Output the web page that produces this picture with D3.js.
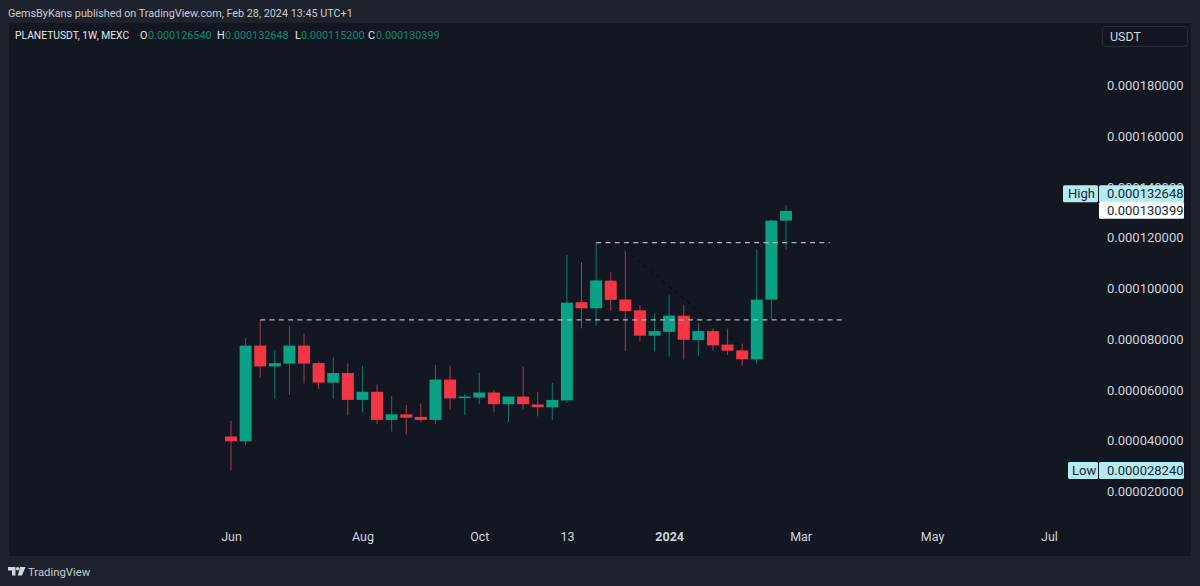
<!DOCTYPE html>
<html>
<head>
<meta charset="utf-8">
<script src="https://cdn.jsdelivr.net/npm/d3@7/dist/d3.min.js"></script>
<style>
  html, body { margin: 0; padding: 0; background: #1e222d; }
  svg { display: block; }
  text { font-family: Roboto, "Noto Sans", sans-serif; }
  .domain, .tick line { display: none; }
</style>
</head>
<body>
<svg id="chart" width="1200" height="586"></svg>
<script>
// prices are in millionths of a USDT
var opens  = [41.5,39.6,77.3,69.1,70.2,77.3,70.4,62.7,66.5,55.9,59.1,48.0,50.2,49.2,48.0,63.9,56.6,56.8,58.8,54.2,57.2,54.1,53.0,55.7,94.4,92.0,102.9,95.5,91.2,81.2,82.7,89.1,79.5,83.0,77.7,75.4,71.9,95.4,126.54];
var highs  = [47.7,80.3,87.4,75.6,85.0,82.1,71.0,72.7,70.3,69.3,62.0,57.4,53.9,54.5,69.7,69.5,58.1,66.6,59.8,57.2,69.0,58.9,62.6,113.1,110.2,117.9,106.2,115.2,93.3,90.0,97.1,93.2,86.2,84.1,84.0,78.1,115.2,126.9,132.648];
var lows   = [28.24,37.9,64.7,56.4,57.8,62.4,60.1,56.4,49.9,51.0,46.3,43.4,42.3,47.2,46.4,52.1,50.0,54.2,51.0,47.1,52.1,49.4,48.1,54.7,84.1,85.2,91.1,75.2,79.1,75.0,73.0,71.8,73.3,75.3,73.6,69.4,70.0,87.7,115.2];
var closes = [39.6,77.3,69.1,70.4,77.3,70.2,62.7,66.5,55.9,59.1,48.0,50.2,48.9,48.0,63.9,56.5,57.2,58.8,54.2,57.2,54.2,53.0,55.9,94.2,92.0,103.0,95.3,90.9,81.2,83.0,89.1,79.6,83.0,77.4,75.3,71.9,95.4,126.54,130.399];

var priceTicks = [20,40,60,80,100,120,140,160,180];
var timeTickIdx = [0,9,17,23,30,39,48,56];
var timeTickLabels = ['Jun','Aug','Oct','13','2024','Mar','May','Jul'];

var svg = d3.select('#chart');
var x = d3.scaleLinear().domain([0,38]).range([231,786]);
var y = d3.scaleLinear().domain([180,20]).range([85,491]);
var fmt = function(v){ return (v*1e-6).toFixed(9); };

var UP = '#0aa184', DOWN = '#f23645', UPWICK = '#0b7d6b', DOWNWICK = '#a93d4c';

// panel
svg.append('rect').attr('width',1200).attr('height',586).attr('fill','#1e222d');
svg.append('rect').attr('x',9).attr('y',23).attr('width',1182).attr('height',533).attr('fill','#131722');

// header
svg.append('text').attr('x',8).attr('y',17).attr('fill','#c8cad0').attr('font-size',10.8)
  .text('GemsByKans published on TradingView.com, Feb 28, 2024 13:45 UTC+1');

var legend = svg.append('text').attr('x',15).attr('y',39).attr('font-size',10.8).attr('fill','#e6e7ea');
legend.append('tspan').attr('font-size',10.3).text('PLANETUSDT, 1W, MEXC');
var ohlc = [['O',opens[38],140,148],['H',highs[38],217,225],['L',lows[38],295,301],['C',closes[38],368,376]];
ohlc.forEach(function(d){
  legend.append('tspan').attr('x',d[2]).text(d[0]);
  legend.append('tspan').attr('x',d[3]).attr('fill','#0d8a73').text(fmt(d[1]));
});

// price axis
var yAxis = d3.axisRight(y).tickValues(priceTicks).tickFormat(fmt).tickSize(0).tickPadding(0);
var gy = svg.append('g').attr('transform','translate(1107,0)').call(yAxis);
gy.selectAll('text').attr('font-size',13).attr('fill','#d1d4dc').attr('dy','0.35em');

// time axis
var xAxis = d3.axisBottom(x).tickValues(timeTickIdx)
  .tickFormat(function(d,i){ return timeTickLabels[i]; }).tickSize(0).tickPadding(0);
var gx = svg.append('g').attr('transform','translate(0,537)').call(xAxis);
gx.selectAll('text').attr('font-size',12.5).attr('fill','#d1d4dc').attr('dy','0.35em')
  .attr('font-weight',function(d,i){ return timeTickLabels[i]==='2024' ? 700 : 400; });

// candles
var idx = d3.range(opens.length);
svg.append('g').selectAll('line').data(idx).enter().append('line')
  .attr('x1',function(i){ return x(i); }).attr('x2',function(i){ return x(i); })
  .attr('y1',function(i){ return y(highs[i]); }).attr('y2',function(i){ return y(lows[i]); })
  .attr('stroke',function(i){ return closes[i]>=opens[i] ? UPWICK : DOWNWICK; })
  .attr('stroke-width',1);
svg.append('g').selectAll('rect').data(idx).enter().append('rect')
  .attr('x',function(i){ return x(i)-6; }).attr('width',12)
  .attr('y',function(i){ return y(Math.max(opens[i],closes[i])); })
  .attr('height',function(i){ return Math.abs(y(opens[i])-y(closes[i])); })
  .attr('fill',function(i){ return closes[i]>=opens[i] ? UP : DOWN; });

// drawn levels
var levels = [[2,41.9,87.4],[25,41,117.9]];
svg.append('g').selectAll('line').data(levels).enter().append('line')
  .attr('x1',function(d){ return x(d[0]); }).attr('x2',function(d){ return x(d[1]); })
  .attr('y1',function(d){ return y(d[2]); }).attr('y2',function(d){ return y(d[2]); })
  .attr('stroke','#b2b5be').attr('stroke-width',1.2).attr('stroke-dasharray','5,4.3');

// dark trend line
svg.append('line').attr('x1',x(27)).attr('y1',y(115)).attr('x2',x(35)).attr('y2',y(76.5))
  .attr('stroke','#0b0d13').attr('stroke-width',1.2).attr('stroke-dasharray','4,4');

// price labels
function label(xp, yp, w, h, fill, txt, tx){
  svg.append('rect').attr('x',xp).attr('y',yp).attr('width',w).attr('height',h).attr('rx',1.5).attr('fill',fill);
  svg.append('text').attr('x',tx).attr('y',yp+h/2).attr('dy','0.35em').attr('font-size',13)
    .attr('fill','#1e222d').text(txt);
}
var yHigh = y(highs[38]), yLow = y(d3.min(lows)), yClose = y(closes[38]);
label(1063,yHigh-20,35,17,'#b2ebf2','High',1068);
label(1099,yHigh-20,85,17,'#b2ebf2',fmt(highs[38]),1107);
label(1099,yClose-9,85,17,'#ffffff',fmt(closes[38]),1107);
label(1068,yLow-8,30,17,'#b2ebf2','Low',1072);
label(1099,yLow-8,85,17,'#b2ebf2',fmt(d3.min(lows)),1107);

// currency button
svg.append('rect').attr('x',1102.5).attr('y',26.5).attr('width',85).attr('height',20).attr('rx',3)
  .attr('fill','#131722').attr('stroke','#2a2e39');
svg.append('text').attr('x',1110).attr('y',41).attr('font-size',12.5).attr('fill','#d1d4dc').text('USDT');

// footer logo
svg.append('path').attr('fill','#d1d4dc')
  .attr('d','M8 567h7.5v8.5h-3.5v-5h-4z M20 567h5.5l-3.5 8.5h-4.2z');
svg.append('circle').attr('cx',17.6).attr('cy',568.8).attr('r',1.7).attr('fill','#d1d4dc');
svg.append('text').attr('x',28).attr('y',576).attr('font-size',11.3).attr('fill','#c8cad0').text('TradingView');
</script>
</body>
</html>
